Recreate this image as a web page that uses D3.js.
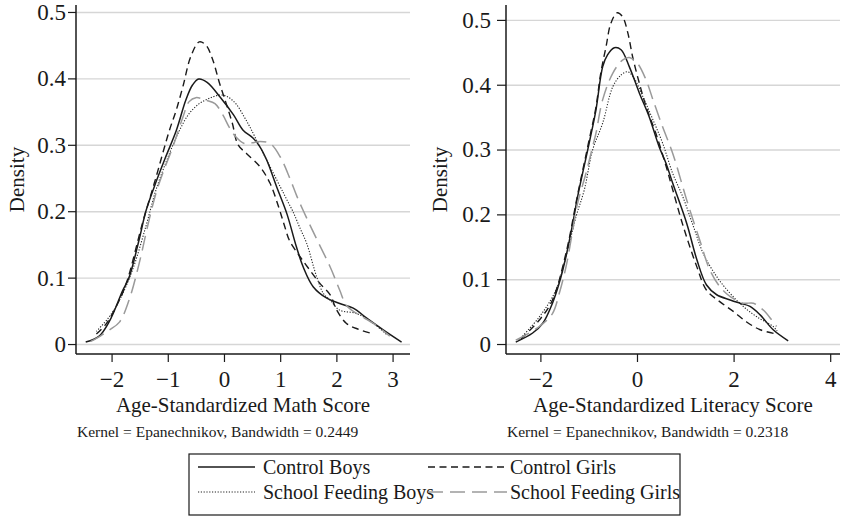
<!DOCTYPE html>
<html><head><meta charset="utf-8">
<script src="https://cdn.jsdelivr.net/npm/d3@7"></script>
<style>
html,body{margin:0;padding:0;background:#fff;}
svg{display:block;font-family:"Liberation Serif","Times New Roman",serif;}
</style></head><body>
<svg id="chart" width="842" height="527"></svg>
<script>
// ---------------- data ----------------
const seriesNames = ["Control Boys", "Control Girls", "School Feeding Boys", "School Feeding Girls"];
const yTicks = [0, 0.1, 0.2, 0.3, 0.4, 0.5];
const mathXTicks = [-2, -1, 0, 1, 2, 3];
const litXTicks = [-2, 0, 2, 4];
const mathTitle = "Age-Standardized Math Score";
const litTitle = "Age-Standardized Literacy Score";
const mathNote = "Kernel = Epanechnikov, Bandwidth = 0.2449";
const litNote = "Kernel = Epanechnikov, Bandwidth = 0.2318";

// Math score densities [score, density]
const mathControlBoys = [[-2.46,0.003],[-2.22,0.012],[-2.04,0.034],[-1.80,0.081],[-1.69,0.1],[-1.51,0.157],[-1.39,0.2],[-1.24,0.237],[-1.05,0.279],[-0.85,0.321],[-0.68,0.367],[-0.56,0.39],[-0.45,0.399],[-0.3,0.394],[-0.07,0.372],[0.17,0.345],[0.34,0.322],[0.52,0.31],[0.64,0.297],[0.76,0.277],[0.94,0.236],[1.12,0.196],[1.29,0.146],[1.41,0.116],[1.59,0.086],[1.83,0.069],[2.06,0.061],[2.30,0.054],[2.54,0.039],[2.84,0.021],[3.16,0.003]];
const mathControlGirls = [[-2.27,0.015],[-2.1,0.03],[-1.92,0.056],[-1.74,0.091],[-1.45,0.182],[-1.24,0.242],[-0.97,0.322],[-0.85,0.352],[-0.73,0.388],[-0.59,0.433],[-0.44,0.455],[-0.32,0.45],[-0.2,0.428],[-0.08,0.393],[0.04,0.362],[0.15,0.332],[0.25,0.30],[0.40,0.287],[0.64,0.267],[0.82,0.242],[0.97,0.207],[1.07,0.18],[1.17,0.155],[1.35,0.132],[1.53,0.111],[1.71,0.091],[1.89,0.074],[2.0,0.052],[2.18,0.031],[2.4,0.022],[2.63,0.016]];
const mathFeedingBoys = [[-2.27,0.019],[-2.05,0.04],[-1.86,0.066],[-1.63,0.111],[-1.39,0.177],[-1.21,0.232],[-0.97,0.287],[-0.79,0.322],[-0.62,0.347],[-0.44,0.362],[-0.26,0.37],[-0.08,0.375],[0.05,0.373],[0.21,0.362],[0.36,0.342],[0.46,0.327],[0.58,0.307],[0.76,0.277],[1.0,0.237],[1.12,0.217],[1.23,0.199],[1.35,0.175],[1.47,0.152],[1.65,0.101],[1.77,0.076],[1.89,0.066],[2.06,0.051],[2.36,0.046],[2.66,0.031],[2.90,0.014]];
const mathFeedingGirls = [[-2.37,0.004],[-2.2,0.012],[-2.04,0.021],[-1.86,0.033],[-1.69,0.066],[-1.51,0.121],[-1.36,0.177],[-1.21,0.227],[-1.09,0.257],[-0.91,0.297],[-0.73,0.342],[-0.62,0.365],[-0.5,0.371],[-0.32,0.367],[-0.16,0.362],[-0.02,0.345],[0.09,0.327],[0.21,0.312],[0.36,0.302],[0.5,0.303],[0.64,0.305],[0.82,0.302],[1.0,0.282],[1.17,0.25],[1.3,0.222],[1.47,0.19],[1.65,0.158],[1.89,0.116],[2.06,0.081],[2.18,0.058],[2.36,0.046],[2.66,0.031],[2.95,0.012]];

// Literacy score densities [score, density]
const litControlBoys = [[-2.51,0.003],[-2.16,0.017],[-1.95,0.032],[-1.75,0.063],[-1.61,0.094],[-1.47,0.135],[-1.33,0.186],[-1.23,0.227],[-0.99,0.31],[-0.85,0.361],[-0.71,0.428],[-0.61,0.446],[-0.47,0.457],[-0.33,0.454],[-0.16,0.428],[0.05,0.387],[0.25,0.351],[0.46,0.304],[0.6,0.279],[0.74,0.248],[1.03,0.186],[1.24,0.13],[1.44,0.091],[1.65,0.076],[1.93,0.068],[2.13,0.063],[2.34,0.058],[2.55,0.045],[2.82,0.022],[3.13,0.005]];
const litControlGirls = [[-2.4,0.008],[-2.02,0.037],[-1.75,0.068],[-1.47,0.14],[-1.23,0.23],[-0.99,0.315],[-0.85,0.365],[-0.75,0.418],[-0.64,0.459],[-0.54,0.495],[-0.41,0.511],[-0.30,0.505],[-0.19,0.48],[-0.09,0.443],[0.05,0.402],[0.19,0.366],[0.39,0.325],[0.6,0.275],[0.74,0.238],[0.96,0.181],[1.24,0.119],[1.44,0.083],[1.72,0.065],[2.0,0.05],[2.27,0.034],[2.55,0.022],[2.85,0.016]];
const litFeedingBoys = [[-2.45,0.006],[-2.02,0.042],[-1.68,0.083],[-1.47,0.135],[-1.26,0.197],[-1.09,0.238],[-0.92,0.299],[-0.71,0.341],[-0.5,0.397],[-0.33,0.415],[-0.19,0.42],[-0.06,0.41],[0.12,0.382],[0.33,0.346],[0.53,0.31],[0.74,0.263],[0.96,0.225],[1.17,0.181],[1.37,0.14],[1.65,0.104],[1.93,0.078],[2.20,0.058],[2.48,0.042],[2.82,0.027],[2.9,0.02]];
const litFeedingGirls = [[-2.51,0.006],[-2.02,0.027],[-1.75,0.047],[-1.61,0.078],[-1.47,0.119],[-1.33,0.176],[-1.23,0.217],[-1.05,0.265],[-0.92,0.304],[-0.85,0.325],[-0.71,0.377],[-0.5,0.418],[-0.30,0.438],[-0.16,0.442],[0.01,0.433],[0.19,0.407],[0.33,0.377],[0.53,0.335],[0.74,0.294],[1.03,0.222],[1.30,0.16],[1.51,0.114],[1.72,0.088],[1.93,0.073],[2.20,0.063],[2.41,0.063],[2.62,0.052],[2.79,0.037],[2.89,0.027]];

// ---------------- styles & layout ----------------
const styles = [
  {color: "#1a1a1a", width: 1.5, dash: null},
  {color: "#1a1a1a", width: 1.4, dash: "7,4.5"},
  {color: "#222", width: 1.1, dash: "1.2,1.6"},
  {color: "#9a9a9a", width: 1.5, dash: "15,7"}
];
const textColor = "#1a1a1a";

const panels = [
  {x0: 76, x1: 410, y0: 5, y1: 354, xDomain: [-2.633, 3.31], yDomain: [-0.015, 0.5105],
   xTicks: mathXTicks, title: mathTitle, note: mathNote, densityX: 24, yTickSize: 8, yTickPad: 2,
   series: [mathControlBoys, mathControlGirls, mathFeedingBoys, mathFeedingGirls]},
  {x0: 506, x1: 840, y0: 5, y1: 354, xDomain: [-2.712, 4.203], yDomain: [-0.0154, 0.523],
   xTicks: litXTicks, title: litTitle, note: litNote, densityX: 447, yTickSize: 9, yTickPad: 6,
   series: [litControlBoys, litControlGirls, litFeedingBoys, litFeedingGirls]}
];

const svg = d3.select("#chart");
svg.append("rect").attr("width", 842).attr("height", 527).attr("fill", "#fff");

const yFmt = d => d === 0 ? "0" : d3.format(".1f")(d);
const xFmt = d3.format("d");

panels.forEach(p => {
  const x = d3.scaleLinear().domain(p.xDomain).range([p.x0, p.x1]);
  const y = d3.scaleLinear().domain(p.yDomain).range([p.y1, p.y0]);
  const g = svg.append("g");

  // gridlines
  const grid = g.append("g").attr("transform", `translate(${p.x0},0)`)
    .call(d3.axisLeft(y).tickValues(yTicks).tickSize(-(p.x1 - p.x0)).tickFormat(""));
  grid.select(".domain").remove();
  grid.selectAll("line").attr("stroke", "#d6d6d6").attr("stroke-width", 1.4);

  // curves
  const line = d3.line().x(d => x(d[0])).y(d => y(d[1])).curve(d3.curveCatmullRom.alpha(0.5));
  p.series.forEach((s, i) => {
    const st = styles[i];
    g.append("path").datum(s).attr("d", line)
      .attr("fill", "none").attr("stroke", st.color).attr("stroke-width", st.width)
      .attr("stroke-dasharray", st.dash).attr("stroke-linejoin", "round");
  });

  // y axis
  const ya = g.append("g").attr("transform", `translate(${p.x0},0)`)
    .call(d3.axisLeft(y).tickValues(yTicks).tickSize(p.yTickSize).tickPadding(p.yTickPad).tickFormat(yFmt).tickSizeOuter(0));
  ya.select(".domain").attr("stroke", "#1a1a1a").attr("stroke-width", 1.5)
    .attr("d", `M0,${p.y0}V${p.y1}`);
  ya.selectAll(".tick line").attr("stroke", "#1a1a1a").attr("stroke-width", 1.2);
  ya.selectAll("text").attr("font-size", 23).attr("font-family", "Liberation Serif").attr("fill", textColor);

  // x axis
  const xa = g.append("g").attr("transform", `translate(0,${p.y1})`)
    .call(d3.axisBottom(x).tickValues(p.xTicks).tickSize(8).tickPadding(9).tickFormat(xFmt).tickSizeOuter(0));
  xa.select(".domain").attr("stroke", "#1a1a1a").attr("stroke-width", 1.5)
    .attr("d", `M${p.x0},0H${p.x1}`);
  xa.selectAll(".tick line").attr("stroke", "#1a1a1a").attr("stroke-width", 1.2);
  xa.selectAll("text").attr("font-size", 23).attr("font-family", "Liberation Serif").attr("fill", textColor);

  // titles
  g.append("text").attr("x", (p.x0 + p.x1) / 2).attr("y", 412).attr("text-anchor", "middle")
    .attr("font-size", 21).attr("fill", textColor).text(p.title);
  g.append("text").attr("x", p.x0 + 1).attr("y", 437)
    .attr("font-size", 15.5).attr("fill", textColor).text(p.note);
  g.append("text").attr("transform", `translate(${p.densityX},${(p.y0 + p.y1) / 2}) rotate(-90)`)
    .attr("text-anchor", "middle").attr("font-size", 21).attr("fill", textColor).text("Density");
});

// legend
const lg = svg.append("g");
lg.append("rect").attr("x", 189).attr("y", 454).attr("width", 491).attr("height", 61)
  .attr("fill", "#fff").attr("stroke", "#1a1a1a").attr("stroke-width", 1.2);
const legPos = [
  {lx0: 198, lx1: 255, tx: 263, ly: 467},
  {lx0: 428, lx1: 507, tx: 510, ly: 467},
  {lx0: 198, lx1: 255, tx: 263, ly: 492},
  {lx0: 428, lx1: 507, tx: 510, ly: 492}
];
seriesNames.forEach((name, i) => {
  const pos = legPos[i], st = styles[i];
  lg.append("line").attr("x1", pos.lx0).attr("x2", pos.lx1).attr("y1", pos.ly).attr("y2", pos.ly)
    .attr("stroke", st.color).attr("stroke-width", st.width).attr("stroke-dasharray", st.dash);
  lg.append("text").attr("x", pos.tx).attr("y", pos.ly + 7).attr("font-size", 20)
    .attr("fill", textColor).text(name);
});
</script>
</body></html>
